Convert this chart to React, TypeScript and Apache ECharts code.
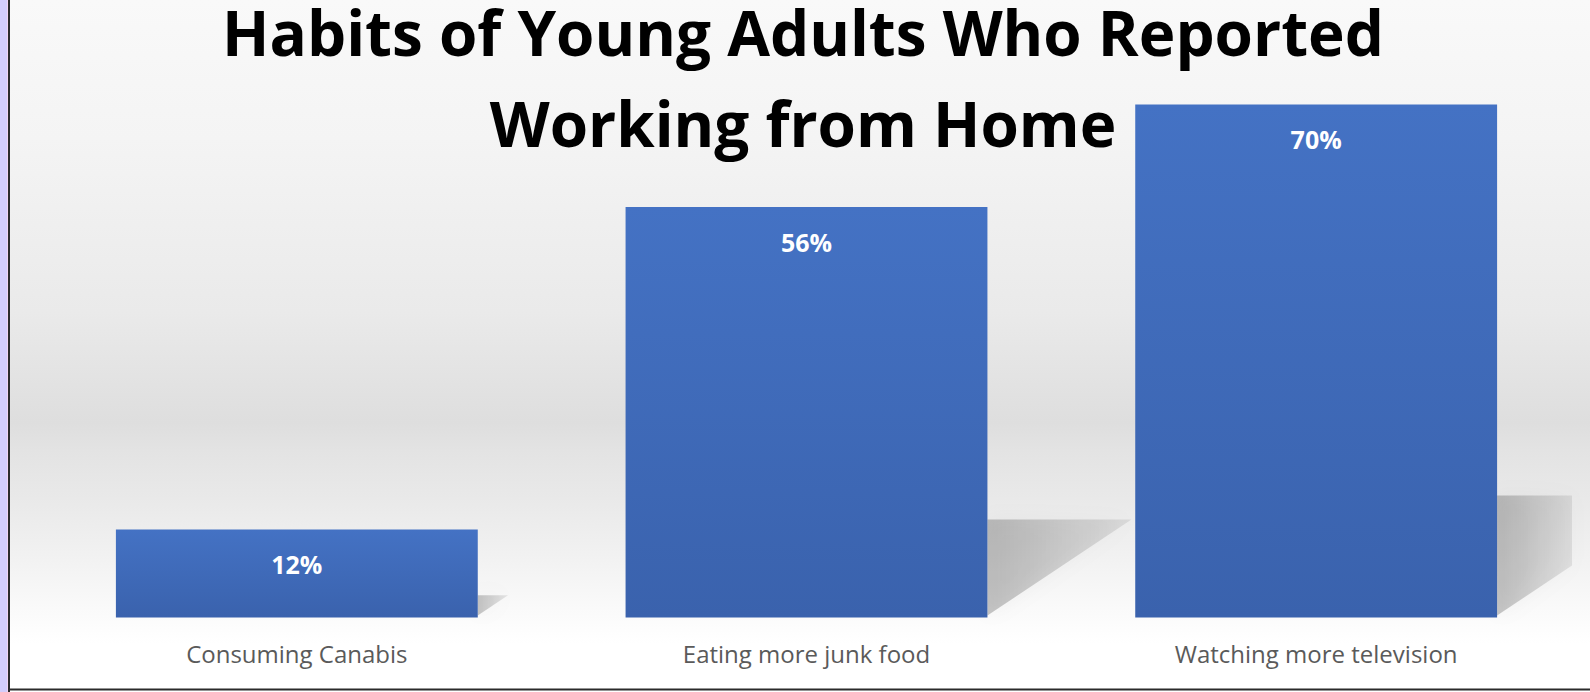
import React, { useEffect, useRef } from "react";
import * as echarts from "echarts";

const TITLE_LINES = ["Habits of Young Adults Who Reported", "Working from Home"];
const CATEGORIES = ["Consuming Canabis", "Eating more junk food", "Watching more television"];
const VALUES = [12, 56, 70];
const Y_MAX = 70;

export default function App() {
  const ref = useRef<HTMLDivElement>(null);

  useEffect(() => {
    if (!ref.current) return;
    const chart = echarts.init(ref.current, undefined, { renderer: "svg" });
    const W = 1590;
    const H = 692;

    const bg = new echarts.graphic.LinearGradient(0, 0, 0, 1, [
      { offset: 0, color: "#f9f9f9" },
      { offset: 0.2, color: "#f4f4f4" },
      { offset: 0.45, color: "#eaeaea" },
      { offset: 0.61, color: "#dedede" },
      { offset: 0.65, color: "#e3e3e3" },
      { offset: 0.72, color: "#e9e9e9" },
      { offset: 0.8, color: "#f1f1f1" },
      { offset: 0.88, color: "#fafafa" },
      { offset: 0.93, color: "#ffffff" },
      { offset: 1, color: "#ffffff" },
    ]);

    const barColor = new echarts.graphic.LinearGradient(0, 0, 0, 1, [
      { offset: 0, color: "#4472c4" },
      { offset: 1, color: "#3a62ad" },
    ]);

    const GAP = 0.29;
    const titleStyle = {
      fill: "#000000",
      fontFamily: "Open Sans",
      fontWeight: "bold",
      fontSize: 62,
      lineHeight: 62,
      align: "center",
      verticalAlign: "middle",
    };

    const option: any = {
      animation: false,
      graphic: [
        { type: "rect", z: -10, shape: { x: 0, y: 0, width: W, height: H }, style: { fill: bg } },
        { type: "rect", z: 100, shape: { x: 0, y: 0, width: 7, height: H }, style: { fill: "#d3cdfb" } },
        { type: "rect", z: 100, shape: { x: 7, y: 0, width: 1, height: H }, style: { fill: "#f1d3f3" } },
        { type: "rect", z: 100, shape: { x: 8, y: 0, width: 2, height: H }, style: { fill: "#2b2b2b" } },
        { type: "rect", z: 100, shape: { x: 8, y: 688.5, width: W - 8, height: 2 }, style: { fill: "#2b2b2b" } },
        { type: "text", z: 50, x: 803, y: 32, style: { ...titleStyle, text: TITLE_LINES[0] } },
        { type: "text", z: 50, x: 803, y: 123, style: { ...titleStyle, text: TITLE_LINES[1] } },
      ],
      grid: { left: 42, right: 19, top: 104.4, bottom: 74.5 },
      xAxis: {
        type: "category",
        data: CATEGORIES,
        axisLine: { show: false },
        axisTick: { show: false },
        axisLabel: {
          color: "#5a5a5a",
          fontFamily: "Open Sans",
          fontSize: 24,
          margin: 24,
        },
      },
      yAxis: {
        type: "value",
        min: 0,
        max: Y_MAX,
        show: false,
        splitLine: { show: false },
      },
      series: [
        {
          type: "custom",
          z: 1,
          silent: true,
          data: VALUES.map((v, i) => [i, v]),
          renderItem: (params: any, api: any) => {
            const idx = api.value(0);
            const v = api.value(1);
            const top = api.coord([idx, v]);
            const base = api.coord([idx, 0]);
            const band = api.size([1, 0])[0];
            const barW = band * (1 - GAP);
            const right = base[0] + barW / 2;
            const b = base[1] - 2;
            const h = (b - top[1]) * 0.235;
            const w = h * 1.5;
            const xmax = api.getWidth() - 18;
            const pts: number[][] = [[right, b], [right, b - h]];
            if (right + w <= xmax) {
              pts.push([right + w, b - h]);
            } else {
              pts.push([xmax, b - h]);
              pts.push([xmax, b - (h * (xmax - right)) / w]);
            }
            return {
              type: "polygon",
              shape: { points: pts },
              style: {
                fill: new echarts.graphic.LinearGradient(0, 0, 1, 0, [
                  { offset: 0, color: "rgba(0,0,0,0.22)" },
                  { offset: 1, color: "rgba(0,0,0,0.08)" },
                ]),
                shadowBlur: 20,
                shadowColor: "rgba(0,0,0,0.18)",
              },
            };
          },
        },
        {
          type: "bar",
          z: 2,
          data: VALUES,
          barCategoryGap: GAP * 100 + "%",
          itemStyle: { color: barColor },
          label: {
            show: true,
            position: "insideTop",
            distance: 22,
            formatter: "{c}%",
            color: "#ffffff",
            fontFamily: "Open Sans",
            fontWeight: "bold",
            fontSize: 25,
          },
        },
      ],
    };

    chart.setOption(option);
    return () => chart.dispose();
  }, []);

  return (
    <div
      ref={ref}
      style={{ position: "absolute", left: 0, top: 0, width: 1590, height: 692 }}
    />
  );
}
